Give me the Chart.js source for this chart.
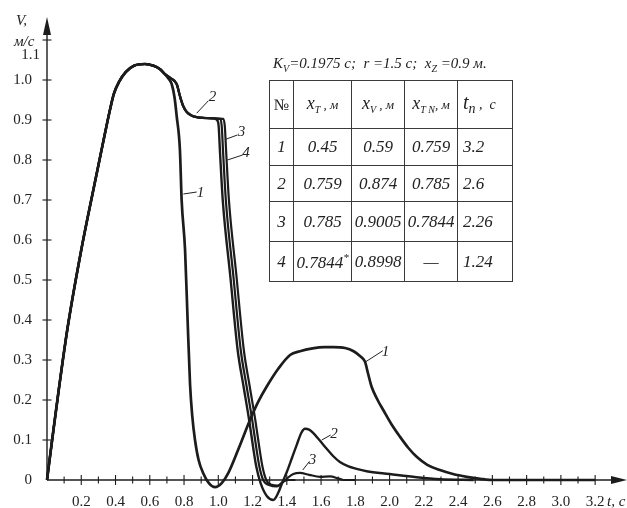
<!DOCTYPE html>
<html><head><meta charset="utf-8">
<script src="https://cdn.jsdelivr.net/npm/chart.js@4/dist/chart.umd.min.js"></script>
<style>
body{margin:0;background:#fff;}
#wrap{position:relative;width:627px;height:508px;overflow:hidden;background:#fff;}
#c{position:absolute;left:0;top:0;}
#hdr{position:absolute;left:273px;top:55px;font:italic 15px "Liberation Serif",serif;color:#222;white-space:nowrap;}
#hdr sub{font-size:10px;}
#tbl{position:absolute;left:269px;top:80px;border-collapse:collapse;table-layout:fixed;font:italic 17px "Liberation Serif",serif;color:#222;}
#tbl td{border:1.4px solid #3a3a3a;padding:0;text-align:center;white-space:nowrap;overflow:visible;}
#tbl td.l{text-align:left;padding-left:5px;}
#tbl sub{font-size:10px;}
#tbl sup{font-size:11px;}
</style></head>
<body><div id="wrap">
<canvas id="c" width="627" height="508"></canvas>
<div id="hdr">K<sub>V</sub>=0.1975 с;&nbsp; r =1.5 с;&nbsp; x<sub>Z</sub> =0.9 м.</div>
<table id="tbl">
<colgroup><col style="width:24px"><col style="width:58px"><col style="width:53px"><col style="width:53px"><col style="width:55px"></colgroup>
<tr style="height:48px"><td style="font-style:normal;font-size:16px">№</td><td><span style="font-size:18px">x</span><sub>T</sub><span style="font-size:13px"> , м</span></td><td><span style="font-size:18px">x</span><sub>V</sub><span style="font-size:13px"> , м</span></td><td><span style="font-size:18px">x</span><sub>T N</sub><span style="font-size:13px">, м</span></td><td class="l"><span style="font-size:20px">t</span><sub style="font-size:14px">n</sub><span style="font-size:14px"> ,&nbsp; c</span></td></tr>
<tr style="height:37px"><td>1</td><td>0.45</td><td>0.59</td><td>0.759</td><td class="l">3.2</td></tr>
<tr style="height:36px"><td>2</td><td>0.759</td><td>0.874</td><td>0.785</td><td class="l">2.6</td></tr>
<tr style="height:40px"><td>3</td><td>0.785</td><td>0.9005</td><td>0.7844</td><td class="l">2.26</td></tr>
<tr style="height:40px"><td>4</td><td>0.7844<sup>*</sup></td><td>0.8998</td><td>—</td><td class="l">1.24</td></tr>
</table>
</div>
<script>
// shared rising part (t, s ; V, m/s)
const riseT = [0, 0.03, 0.07, 0.12, 0.2, 0.28, 0.34, 0.37, 0.39, 0.42, 0.46, 0.51, 0.572, 0.62, 0.66, 0.69];
const riseV = [0, 0.10, 0.23, 0.38, 0.575, 0.745, 0.87, 0.93, 0.965, 0.995, 1.02, 1.036, 1.04, 1.036, 1.027, 1.014];

const curve1T = [0.71, 0.728, 0.745, 0.757, 0.776, 0.786, 0.806, 0.82, 0.835, 0.848, 0.864, 0.885, 0.912, 0.945, 0.981, 1.02, 1.058, 1.12, 1.185, 1.235, 1.282, 1.35, 1.419, 1.477, 1.55, 1.62, 1.671, 1.74, 1.79, 1.827, 1.856, 1.875, 1.895, 1.93, 1.963, 2.01, 2.061, 2.11, 2.158, 2.22, 2.294, 2.37, 2.45, 2.53, 2.605, 3.2];
const curve1V = [1.003, 0.99, 0.955, 0.91, 0.825, 0.70, 0.575, 0.41, 0.24, 0.16, 0.10, 0.05, 0.017, -0.008, -0.018, -0.008, 0.017, 0.08, 0.15, 0.197, 0.233, 0.278, 0.3125, 0.322, 0.329, 0.332, 0.332, 0.33, 0.322, 0.31, 0.296, 0.265, 0.233, 0.2, 0.175, 0.14, 0.108, 0.08, 0.058, 0.038, 0.025, 0.015, 0.008, 0.003, 0, 0];

const curve2T = [0.72, 0.757, 0.776, 0.795, 0.816, 0.845, 0.874, 0.92, 0.971, 0.992, 1.002, 1.01, 1.026, 1.07, 1.113, 1.147, 1.18, 1.204, 1.222, 1.247, 1.283, 1.321, 1.35, 1.375, 1.40, 1.43, 1.458, 1.485, 1.506, 1.53, 1.555, 1.59, 1.633, 1.67, 1.71, 1.76, 1.808, 1.866, 2.0, 2.158, 2.294, 2.49];
const curve2V = [1.005, 0.99, 0.96, 0.935, 0.92, 0.911, 0.907, 0.905, 0.904, 0.9, 0.885, 0.82, 0.70, 0.51, 0.325, 0.235, 0.15, 0.08, 0.033, -0.008, -0.04, -0.05, -0.032, -0.005, 0.02, 0.055, 0.088, 0.118, 0.128, 0.126, 0.117, 0.10, 0.078, 0.06, 0.045, 0.034, 0.028, 0.022, 0.015, 0.007, 0.002, 0];

const curve3T = [0.72, 0.757, 0.776, 0.795, 0.816, 0.845, 0.874, 0.92, 0.971, 1.01, 1.02, 1.028, 1.044, 1.088, 1.131, 1.165, 1.198, 1.222, 1.24, 1.262, 1.30, 1.342, 1.39, 1.438, 1.477, 1.53, 1.594, 1.652, 1.70, 1.73, 1.8];
const curve3V = [1.005, 0.99, 0.96, 0.935, 0.92, 0.911, 0.907, 0.905, 0.904, 0.903, 0.885, 0.82, 0.70, 0.51, 0.325, 0.235, 0.15, 0.08, 0.033, 0.0, -0.013, -0.016, 0, 0.015, 0.018, 0.013, 0.008, 0.009, 0.004, 0, 0];

const curve4T = [0.72, 0.757, 0.776, 0.795, 0.816, 0.845, 0.874, 0.92, 0.971, 1.028, 1.038, 1.046, 1.062, 1.106, 1.149, 1.183, 1.216, 1.24, 1.258, 1.28, 1.312, 1.345, 1.38, 1.41, 1.45];
const curve4V = [1.005, 0.99, 0.96, 0.935, 0.92, 0.911, 0.907, 0.905, 0.904, 0.903, 0.885, 0.82, 0.70, 0.51, 0.325, 0.235, 0.15, 0.08, 0.033, 0.0, -0.012, -0.014, -0.004, 0, 0];

const xTickLabels = ['0.2','0.4','0.6','0.8','1.0','1.2','1.4','1.6','1.8','2.0','2.2','2.4','2.6','2.8','3.0','3.2'];
const yTickLabels = ['0','0.1','0.2','0.3','0.4','0.5','0.6','0.7','0.8','0.9','1.0'];

// curve labels: [text, labelT, labelV, leaderT1, leaderV1, leaderT2, leaderV2]
const curveLabels = [
  ['1', 0.896, 0.7175, 0.796, 0.715, 0.874, 0.72],
  ['2', 0.966, 0.9575, 0.874, 0.917, 0.942, 0.948],
  ['3', 1.135, 0.869, 1.045, 0.852, 1.111, 0.8625],
  ['4', 1.162, 0.8175, 1.053, 0.80, 1.142, 0.8125],
  ['1', 1.976, 0.32, 1.862, 0.296, 1.96, 0.323],
  ['2', 1.675, 0.115, 1.604, 0.10, 1.656, 0.1125],
  ['3', 1.55, 0.05, 1.493, 0.025, 1.531, 0.046]
];

function pts(tA, vA){ return tA.map((t,i)=>({x:t, y:vA[i]})); }
function withRise(tA, vA){ return pts(riseT.concat(tA), riseV.concat(vA)); }

const INK = '#1c1c1c';
const serif = '"Liberation Serif", "Times New Roman", serif';

function ds(data, w){ return {data, borderColor: INK, borderWidth: w, pointRadius: 0, fill: false, cubicInterpolationMode: 'monotone', clip: false}; }

const axisPlugin = {
  id: 'axisPlugin',
  beforeDatasetsDraw(chart){
    const {ctx, scales:{x, y}} = chart;
    const x0 = x.getPixelForValue(0), y0 = y.getPixelForValue(0);
    ctx.save();
    ctx.strokeStyle = INK; ctx.fillStyle = INK; ctx.lineWidth = 1.4;
    ctx.beginPath(); ctx.moveTo(x0, y0); ctx.lineTo(chart.width - 12, y0); ctx.stroke();
    ctx.beginPath(); ctx.moveTo(chart.width, y0); ctx.lineTo(chart.width - 16, y0 - 4); ctx.lineTo(chart.width - 16, y0 + 4); ctx.closePath(); ctx.fill();
    const yTop = y.getPixelForValue(y.max);
    ctx.beginPath(); ctx.moveTo(x0, y0); ctx.lineTo(x0, yTop + 12); ctx.stroke();
    ctx.beginPath(); ctx.moveTo(x0, yTop); ctx.lineTo(x0 - 4, yTop + 18); ctx.lineTo(x0 + 4, yTop + 18); ctx.closePath(); ctx.fill();
    ctx.lineWidth = 1.1;
    for (let i = 1; i <= 32; i++) {
      const px = x.getPixelForValue(i / 10); const h = (i % 2 === 0) ? 5 : 3.5;
      ctx.beginPath(); ctx.moveTo(px, y0 - h); ctx.lineTo(px, y0 + h); ctx.stroke();
    }
    for (let i = 1; i <= 11; i++) {
      const py = y.getPixelForValue(i / 10);
      ctx.beginPath(); ctx.moveTo(x0 - 4.5, py); ctx.lineTo(x0 + 4.5, py); ctx.stroke();
    }
    ctx.restore();
  },
  afterDraw(chart){
    const {ctx, scales:{x, y}} = chart;
    const x0 = x.getPixelForValue(0);
    ctx.save();
    ctx.fillStyle = '#222'; ctx.strokeStyle = '#222';
    ctx.font = '15px ' + serif; ctx.textAlign = 'right'; ctx.textBaseline = 'middle';
    ctx.fillText('1.1', x0 - 7, y.getPixelForValue(1.1) + 15);
    ctx.font = 'italic 15px ' + serif; ctx.textAlign = 'left'; ctx.textBaseline = 'alphabetic';
    ctx.fillText('V,', 16, 25);
    ctx.fillText('м/с', 14, 46);
    ctx.fillText('t, с', 607, 506);
    ctx.lineWidth = 1;
    for (const [txt, lt, lv, a1, b1, a2, b2] of curveLabels) {
      ctx.beginPath(); ctx.moveTo(x.getPixelForValue(a1), y.getPixelForValue(b1)); ctx.lineTo(x.getPixelForValue(a2), y.getPixelForValue(b2)); ctx.stroke();
      ctx.font = 'italic 15px ' + serif; ctx.textAlign = 'center'; ctx.textBaseline = 'middle';
      ctx.fillText(txt, x.getPixelForValue(lt), y.getPixelForValue(lv));
    }
    ctx.restore();
  }
};

new Chart(document.getElementById('c'), {
  type: 'line',
  data: { datasets: [
    ds(withRise(curve1T, curve1V), 2.7),
    ds(withRise(curve2T, curve2V), 2.4),
    ds(withRise(curve3T, curve3V), 2.2),
    ds(withRise(curve4T, curve4V), 2.2)
  ]},
  options: {
    responsive: false, animation: false,
    layout: { padding: { left: 0, right: 0, top: 17, bottom: 0 } },
    plugins: { legend: { display: false }, tooltip: { enabled: false } },
    scales: {
      x: {
        type: 'linear', position: 'bottom', min: 0, max: 3.386,
        grid: { display: false }, border: { display: false },
        afterFit(s){ s.height = 28; },
        ticks: { stepSize: 0.2, includeBounds: false, autoSkip: false, maxRotation: 0, padding: 5, color: '#222',
          font: { family: serif, size: 15 },
          callback(v){ const s = (Math.round(v * 10) / 10).toFixed(1); return xTickLabels.includes(s) && Math.abs(v - Math.round(v*10)/10) < 1e-6 ? s : ''; } }
      },
      y: {
        type: 'linear', position: 'left', min: 0, max: 1.1575,
        grid: { display: false }, border: { display: false },
        afterFit(s){ s.width = 47; },
        ticks: { stepSize: 0.1, includeBounds: false, autoSkip: false, padding: 7, color: '#222',
          font: { family: serif, size: 15 },
          callback(v){ if (Math.abs(v) < 1e-6) return '0'; const s = (Math.round(v * 10) / 10).toFixed(1); return yTickLabels.includes(s) && Math.abs(v - Math.round(v*10)/10) < 1e-6 ? s : ''; } }
      }
    }
  },
  plugins: [axisPlugin]
});
</script>
</body></html>
